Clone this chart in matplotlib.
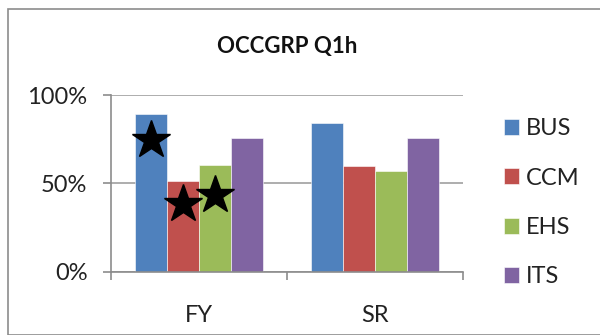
import numpy as np
import matplotlib
matplotlib.use('Agg')
import matplotlib.pyplot as plt
from matplotlib.patches import Rectangle
from matplotlib.ticker import PercentFormatter

plt.rcParams['font.family'] = ['Lato', 'DejaVu Sans']

groups = ['FY', 'SR']
series = ['BUS', 'CCM', 'EHS', 'ITS']
values = {
    'BUS': [89.5, 84.0],
    'CCM': [51.2, 59.7],
    'EHS': [60.6, 56.8],
    'ITS': [75.8, 75.8],
}
colors = {'BUS': '#4F81BD', 'CCM': '#C0504D', 'EHS': '#9BBB59', 'ITS': '#8064A2'}

# stars drawn on top of the FY bars
star_series = ['BUS', 'CCM', 'EHS']
star_values = [74.8, 38.5, 43.6]

fig = plt.figure(figsize=(6, 3.35), dpi=100)
ax = fig.add_axes([0.185, 0.189, 0.587, 0.527])

# chart area frame
fig.patches.append(Rectangle((8 / 600, 0), 1.2, 1 - 9 / 335, transform=fig.transFigure,
                             fill=False, edgecolor='#8C8C8C', linewidth=1.2))

x = np.arange(len(groups))
width = 0.1825
offsets = (np.arange(len(series)) - 1.5) * width

for off, name in zip(offsets, series):
    ax.bar(x + off, np.array(values[name]) / 100, width, color=colors[name],
           edgecolor='white', linewidth=0.4, label=name, zorder=2)

for name, v in zip(star_series, star_values):
    i = series.index(name)
    ax.plot(x[0] + offsets[i], v / 100, marker='*', ms=29, color='black',
            linestyle='none', zorder=3)

ax.set_xlim(-0.5, 1.5)
ax.set_ylim(0, 1)
ax.set_yticks([0, 0.5, 1])
ax.yaxis.set_major_formatter(PercentFormatter(1.0, decimals=0))
ax.set_xticks(x)
ax.set_xticklabels(groups)
ax.set_xticks([-0.5, 0.5, 1.5], minor=True)

ax.grid(axis='y', color='#A0A0A0', linewidth=1.2, zorder=0)
for s in ['top', 'right']:
    ax.spines[s].set_visible(False)
for s in ['left', 'bottom']:
    ax.spines[s].set_color('#8C8C8C')
    ax.spines[s].set_linewidth(1.2)

ax.tick_params(axis='y', length=6, width=1.2, color='#8C8C8C', pad=11, labelsize=17, labelcolor='#222222')
ax.tick_params(axis='x', which='major', length=0, pad=24, labelsize=17, labelcolor='#222222')
ax.tick_params(axis='x', which='minor', length=6, width=1.2, color='#8C8C8C')

ax.set_title('OCCGRP Q1h', fontsize=16, fontweight='bold', pad=30, color='#111111')

ax.legend(loc='center left', bbox_to_anchor=(1.082, 0.39), frameon=False, fontsize=17,
          handlelength=0.65, handleheight=0.65, handletextpad=0.3, labelspacing=1.2,
          labelcolor='#222222', borderpad=0)

fig.savefig('out.png', dpi=100)
